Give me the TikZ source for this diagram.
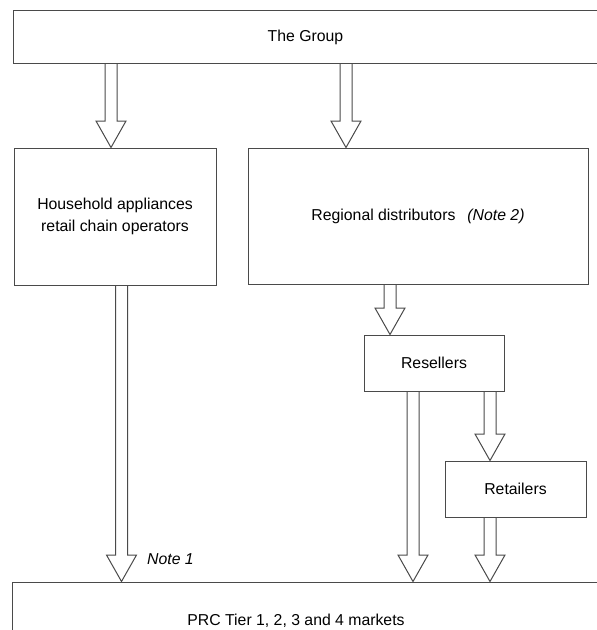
\documentclass[tikz,border=0pt]{standalone}
\usepackage{fontspec}
\setmainfont{Liberation Sans}
\usetikzlibrary{calc}
\definecolor{linec}{HTML}{4A4A4A}
\tikzset{
  boxn/.style={draw=linec, line width=1pt, rectangle, inner sep=0pt, align=center,
    font=\fontsize{15.8}{22}\selectfont},
  notetxt/.style={inner sep=0pt, font=\fontsize{15.8}{22}\selectfont\itshape},
  blockarrow/.style={draw=linec, line width=1pt, line join=miter,
    to path={let \p1=(\tikztostart), \p2=(\tikztotarget) in
      (\x1-6,\y1) -- (\x1-6,\y2+26.5) -- (\x1-15,\y2+26.5) -- (\x1,\y2)
      -- (\x1+15,\y2+26.5) -- (\x1+6,\y2+26.5) -- (\x1+6,\y1)}},
}
\begin{document}
\begin{tikzpicture}[x=1pt,y=-1pt]
\clip (0,0) rectangle (597,630);
\fill[white] (0,0) rectangle (597,630);
% boxes
\node[boxn, minimum width=585pt, minimum height=53pt] (grp) at (305.5,37) {The Group};
\node[boxn, minimum width=202pt, minimum height=137pt] (hh) at (115,216.5) {\raisebox{-2pt}{\parbox{200pt}{\centering Household appliances\\retail chain operators}}};
\node[boxn, minimum width=340pt, minimum height=136pt] (reg) at (418,216) {Regional distributors\hspace{12pt}\textit{(Note 2)}};
\node[boxn, minimum width=140pt, minimum height=56pt] (res) at (434,363) {Resellers};
\node[boxn, minimum width=141pt, minimum height=56pt] (ret) at (515.5,489) {Retailers};
\node[boxn, minimum width=590pt, minimum height=78pt] (prc) at (307,621) {PRC Tier 1, 2, 3 and 4 markets\hspace*{22pt}};
% arrows
\draw[blockarrow] ([xshift=-4pt]hh.north |- grp.south) to ([xshift=-4pt]hh.north);
\draw[blockarrow] ([xshift=-72pt]reg.north |- grp.south) to ([xshift=-72pt]reg.north);
\draw[blockarrow] ([xshift=6.5pt]hh.south) to ([xshift=6.5pt]hh.south |- prc.north);
\draw[blockarrow] ([xshift=-44pt]res.north |- reg.south) to ([xshift=-44pt]res.north);
\draw[blockarrow] ([xshift=-21pt]res.south) to ([xshift=-21pt]res.south |- prc.north);
\draw[blockarrow] ([xshift=-25.5pt]ret.north |- res.south) to ([xshift=-25.5pt]ret.north);
\draw[blockarrow] ([xshift=-25.5pt]ret.south) to ([xshift=-25.5pt]ret.south |- prc.north);
% note
\node[notetxt, anchor=west] (n1) at (147,559) {Note 1};
\end{tikzpicture}
\end{document}
